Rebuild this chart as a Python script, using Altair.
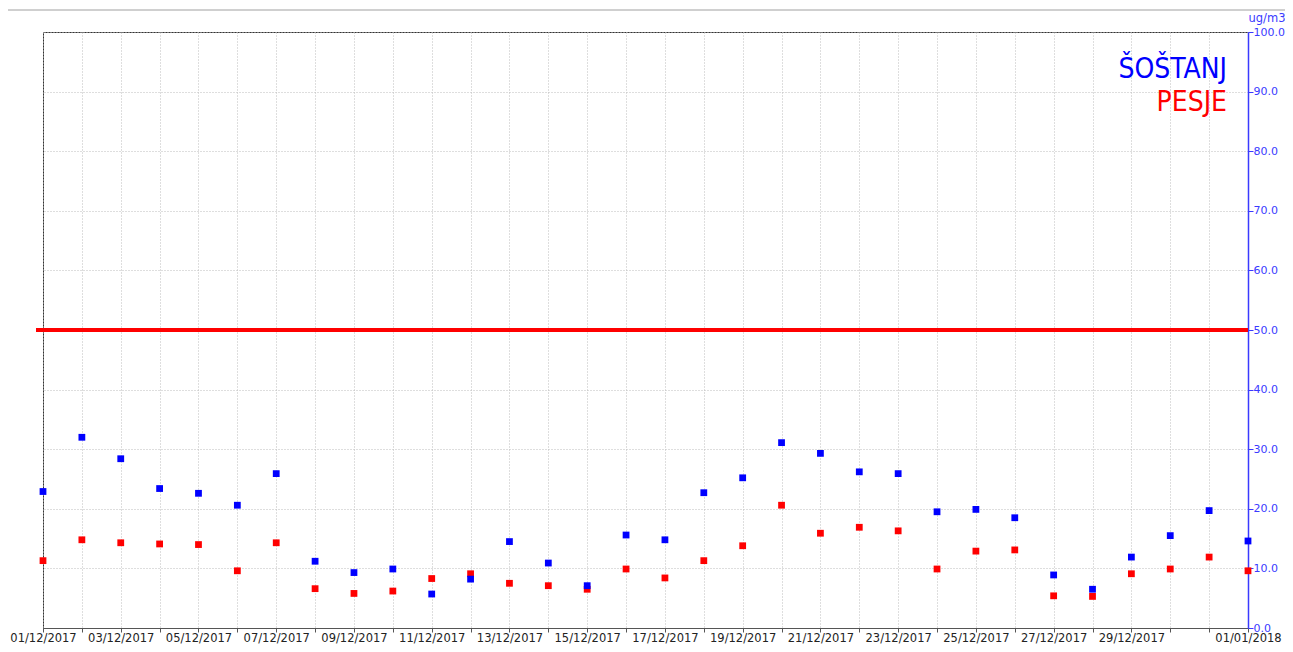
import altair as alt
import pandas as pd

# ---- data -------------------------------------------------------------
dates = pd.date_range("2017-12-01", "2018-01-01", freq="D").strftime("%Y-%m-%d").tolist()

sostanj = [22.9, 32.0, 28.4, 23.4, 22.6, 20.6, 25.9, 11.2, 9.3, 9.9, 5.7,
           8.2, 14.5, 10.9, 7.1, 15.6, 14.8, 22.7, 25.2, 31.1, 29.3, 26.2,
           25.9, 19.5, 19.9, 18.5, 8.9, 6.5, 11.9, 15.5, 19.7, 14.6]
pesje = [11.3, 14.8, 14.3, 14.1, 14.0, 9.6, 14.3, 6.6, 5.8, 6.2, 8.3,
         9.1, 7.5, 7.1, 6.5, 9.9, 8.4, 11.3, 13.8, 20.6, 15.9, 16.9,
         16.3, 9.9, 12.9, 13.1, 5.4, 5.3, 9.1, 9.9, 11.9, 9.6]

stations = ["PESJE", "ŠOŠTANJ"]
station_colors = ["#ff0000", "#0000ff"]

x_labels = ["01/12/2017", "03/12/2017", "05/12/2017", "07/12/2017", "09/12/2017",
            "11/12/2017", "13/12/2017", "15/12/2017", "17/12/2017", "19/12/2017",
            "21/12/2017", "23/12/2017", "25/12/2017", "27/12/2017", "29/12/2017",
            "01/01/2018"]
y_ticks = [0, 10, 20, 30, 40, 50, 60, 70, 80, 90, 100]
limit_value = [50]

rows = []
for d, v in zip(dates, pesje):
    rows.append({"date": d, "station": "PESJE", "value": v})
for d, v in zip(dates, sostanj):
    rows.append({"date": d, "station": "ŠOŠTANJ", "value": v})
df = pd.DataFrame(rows)
limit_df = pd.DataFrame({"limit": limit_value})

W, H = 1205, 596
FONT = "DejaVu Sans"
LEG_FONT = "DejaVu Sans Condensed, Liberation Sans Narrow, Liberation Sans, sans-serif"

label_list = "[" + ",".join("'%s'" % s for s in x_labels) + "]"
label_expr = ("indexof(%s, utcFormat(datum.value, '%%d/%%m/%%Y')) >= 0 ? "
              "utcFormat(datum.value, '%%d/%%m/%%Y') : ''") % label_list

x_values = [alt.DateTime(year=int(d[:4]), month=int(d[5:7]), date=int(d[8:]), utc=True)
            for d in dates]

x_enc = alt.X(
    "date:T",
    scale=alt.Scale(type="utc", nice=False,
                    domain=[x_values[0], x_values[-1]]),
    axis=alt.Axis(
        values=x_values, labelExpr=label_expr, title=None,
        labelOverlap=False, labelFlush=False, labelBound=False,
        labelFont=FONT, labelFontSize=11.5, labelColor="#222222",
        labelPadding=0, tickSize=4, tickColor="#555555",
        domainColor="#555555", grid=True, gridColor="#bdbdbd",
        gridDash=[1, 2], gridWidth=1,
    ),
)

y_enc = alt.Y(
    "value:Q",
    scale=alt.Scale(domain=[0, 100], nice=False, zero=True),
    axis=alt.Axis(
        orient="right", values=y_ticks, format=".1f", title="ug/m3",
        titleAngle=0, titleX=37, titleY=-11, titleAlign="right",
        titleBaseline="alphabetic", titleFont=FONT, titleFontSize=11.5,
        titleFontWeight="normal", titleColor="#3a3aff",
        labelFont=FONT, labelFontSize=11, labelColor="#3a3aff",
        labelPadding=0, tickSize=5, tickColor="#3a3aff",
        domainColor="#3a3aff", domainWidth=1.5,
        grid=True, gridColor="#bdbdbd", gridDash=[1, 2], gridWidth=1,
    ),
)

points = alt.Chart(df).mark_point(
    shape="square", filled=True, size=46, opacity=1
).encode(
    x=x_enc,
    y=y_enc,
    color=alt.Color("station:N",
                    scale=alt.Scale(domain=stations, range=station_colors),
                    legend=None),
)

limit = alt.Chart(limit_df).mark_rule(
    color="#ff0000", strokeWidth=4, clip=False
).encode(
    y=alt.Y("limit:Q"),
    x=alt.value(-7),
    x2=alt.value(W),
)

top_sep = alt.Chart(limit_df).mark_rule(
    color="#a0a0a0", strokeWidth=1, clip=False
).encode(
    y=alt.value(-22),
    x=alt.value(-35),
    x2=alt.value(W + 37),
)

legend_s = alt.Chart(limit_df).mark_text(
    text="ŠOŠTANJ", font=LEG_FONT, fontSize=28,
    color="#0000ff", align="right", baseline="alphabetic"
).encode(x=alt.value(W - 21), y=alt.value(46))

legend_p = alt.Chart(limit_df).mark_text(
    text="PESJE", font=LEG_FONT, fontSize=28,
    color="#ff0000", align="right", baseline="alphabetic"
).encode(x=alt.value(W - 21), y=alt.value(79))

chart = alt.layer(top_sep, limit, points, legend_s, legend_p).properties(
    width=W, height=H,
    autosize=alt.AutoSizeParams(type="none"),
    padding={"left": 35, "top": 24, "right": 37, "bottom": 16},
    background="white",
).configure_view(
    stroke="#333333", strokeWidth=1
)

chart.save("out.html", embed_options={"renderer": "svg", "actions": False})
